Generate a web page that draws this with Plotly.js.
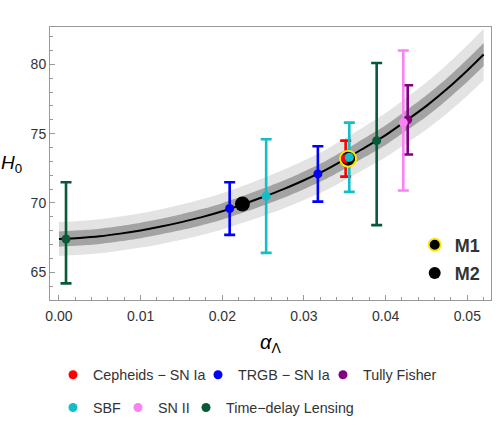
<!DOCTYPE html>
<html>
<head>
<meta charset="utf-8">
<script src="https://cdn.plot.ly/plotly-3.0.1.min.js"></script>
<style>
  html, body { margin: 0; padding: 0; background: #fff; }
</style>
</head>
<body>
<div id="h0_graph" style="width:500px;height:425px;"></div>
<script>
/**
 * Colors
 */
const red = "#FF0000";      // Cepheids - SN Ia
const blue = "#0000FF";     // TRGB - SN Ia
const purple = "#800080";   // Tully Fisher
const cyan = "#14BEC8";     // SBF
const pink = "#FA82F5";     // SN II
const green = "#065A38";    // Time-delay Lensing
const bandLight = "#E3E3E3";
const bandDark = "#A3A3A3";
const frameColor = "#999";
const tickFontColor = "#333";
const fontFamily = "Liberation Sans, Arial, sans-serif";

/**
 * H0(alpha) curve with the two grey bands
 */
const curve_alpha = [0, 0.0025, 0.005, 0.0075, 0.01, 0.0125, 0.015, 0.0175, 0.02, 0.0225, 0.025,
                     0.0275, 0.03, 0.0325, 0.035, 0.0375, 0.04, 0.0425, 0.045, 0.0475, 0.05, 0.052];
const curve_h0 = [67.40, 67.48, 67.60, 67.79, 68.02, 68.30, 68.62, 68.98, 69.40, 69.90, 70.43,
                  71.00, 71.64, 72.33, 73.15, 74.02, 74.90, 75.94, 77.01, 78.22, 79.56, 80.71];
const dark_upper = [67.95, 68.03, 68.15, 68.34, 68.58, 68.86, 69.19, 69.56, 69.99, 70.50, 71.04,
                    71.62, 72.28, 72.98, 73.82, 74.71, 75.61, 76.67, 77.77, 79.00, 80.37, 81.54];
const dark_lower = [66.85, 66.93, 67.05, 67.24, 67.46, 67.74, 68.05, 68.40, 68.81, 69.30, 69.82,
                    70.38, 71.00, 71.68, 72.48, 73.33, 74.19, 75.21, 76.25, 77.44, 78.75, 79.88];
const light_upper = [68.62, 68.70, 68.82, 69.02, 69.26, 69.55, 69.89, 70.27, 70.71, 71.23, 71.79,
                     72.39, 73.06, 73.79, 74.65, 75.56, 76.49, 77.58, 78.71, 79.98, 81.38, 82.57];
const light_lower = [66.18, 66.26, 66.38, 66.56, 66.78, 67.05, 67.35, 67.69, 68.09, 68.57, 69.07,
                     69.61, 70.22, 70.87, 71.65, 72.48, 73.31, 74.30, 75.31, 76.46, 77.74, 78.85];

/**
 * Measurements: alpha position, H0, error up, error down
 */
const cep_alpha = [0.0351];
const cep_h0 = [73.2];
const cep_up = [1.3];
const cep_down = [1.3];

const trgb_alpha = [0.0209, 0.0317];
const trgb_h0 = [69.6, 72.1];
const trgb_up = [1.9, 2.0];
const trgb_down = [1.9, 2.0];

const tf_alpha = [0.0427];
const tf_h0 = [76.0];
const tf_up = [2.5];
const tf_down = [2.5];

const sbf_alpha = [0.02537, 0.03555];
const sbf_h0 = [70.5, 73.3];
const sbf_up = [4.1, 2.5];
const sbf_down = [4.1, 2.5];

const sn2_alpha = [0.04216];
const sn2_h0 = [75.8];
const sn2_up = [5.2];
const sn2_down = [4.9];

const lens_alpha = [0.00086, 0.0389];
const lens_h0 = [67.4, 74.5];
const lens_up = [4.1, 5.6];
const lens_down = [3.2, 6.1];

/**
 * Model points
 */
const m1_alpha = [0.0354];
const m1_h0 = [73.2];
const m2_alpha = [0.02246];
const m2_h0 = [69.93];

const series = [
    {name: "Cepheids − SN Ia", x: cep_alpha, y: cep_h0, up: cep_up, down: cep_down, color: red, legend: "legend"},
    {name: "TRGB − SN Ia", x: trgb_alpha, y: trgb_h0, up: trgb_up, down: trgb_down, color: blue, legend: "legend2"},
    {name: "Tully Fisher", x: tf_alpha, y: tf_h0, up: tf_up, down: tf_down, color: purple, legend: "legend3"},
    {name: "SBF", x: sbf_alpha, y: sbf_h0, up: sbf_up, down: sbf_down, color: cyan, legend: "legend4"},
    {name: "SN II", x: sn2_alpha, y: sn2_h0, up: sn2_up, down: sn2_down, color: pink, legend: "legend5"},
    {name: "Time−delay Lensing", x: lens_alpha, y: lens_h0, up: lens_up, down: lens_down, color: green, legend: "legend6"}
];

function bandTrace(y, fill, color) {
    return {
        x: curve_alpha, y: y, type: "scatter", mode: "lines",
        line: {width: 0, color: color, shape: "spline", smoothing: 0.8},
        fill: fill, fillcolor: color,
        showlegend: false, hoverinfo: "skip"
    };
}

var data = [
    bandTrace(light_lower, "none", bandLight),
    bandTrace(light_upper, "tonexty", bandLight),
    bandTrace(dark_lower, "none", bandDark),
    bandTrace(dark_upper, "tonexty", bandDark),
    {
        x: curve_alpha, y: curve_h0, type: "scatter", mode: "lines",
        line: {color: "#000", width: 2, shape: "spline", smoothing: 0.8},
        showlegend: false
    }
];

// error bars first, so the model points sit on top of them
series.forEach(function(s) {
    data.push({
        x: s.x, y: s.y, type: "scatter", mode: "markers",
        marker: {size: 9, color: "rgba(0,0,0,0)"},
        error_y: {
            type: "data", symmetric: false,
            array: s.up, arrayminus: s.down,
            color: s.color, thickness: 2.6, width: 5.5
        },
        showlegend: false, hoverinfo: "skip"
    });
});

data.push({
    x: m1_alpha, y: m1_h0, type: "scatter", mode: "markers", name: "<b>M1</b>",
    marker: {size: 16, color: "#000", line: {color: "#FFE600", width: 2}},
    legend: "legend7"
});
data.push({
    x: m2_alpha, y: m2_h0, type: "scatter", mode: "markers", name: "<b>M2</b>",
    marker: {size: 15, color: "#000"},
    legend: "legend8"
});

// the dots themselves
series.forEach(function(s) {
    data.push({
        x: s.x, y: s.y, type: "scatter", mode: "markers", name: s.name,
        marker: {size: 9, color: s.color},
        legend: s.legend
    });
});

function legendAt(x, y, size) {
    return {
        x: x, y: y, xanchor: "left", yanchor: "middle",
        orientation: "h",
        bgcolor: "rgba(0,0,0,0)", borderwidth: 0,
        itemsizing: "trace",
        font: {family: fontFamily, size: size || 14.3, color: tickFontColor}
    };
}

var axisCommon = {
    showline: true, mirror: true, linecolor: frameColor, linewidth: 1,
    showgrid: false, zeroline: false,
    ticks: "inside", ticklen: 5, tickcolor: frameColor, tickwidth: 1,
    tickfont: {family: fontFamily, size: 14, color: tickFontColor}
};

var layout = {
    width: 500, height: 425,
    margin: {l: 50, r: 9, t: 27, b: 125, autoexpand: false},
    paper_bgcolor: "#fff", plot_bgcolor: "#fff",
    font: {family: fontFamily},
    xaxis: Object.assign({}, axisCommon, {
        range: [-0.0011, 0.0529],
        tick0: 0, dtick: 0.01, tickformat: ".2f",
        ticklabelstandoff: 3,
        minor: {dtick: 0.002, ticks: "inside", ticklen: 3, tickcolor: frameColor}
    }),
    yaxis: Object.assign({}, axisCommon, {
        range: [63.0, 82.7],
        tick0: 65, dtick: 5,
        minor: {dtick: 1, ticks: "inside", ticklen: 3, tickcolor: frameColor}
    }),
    legend: legendAt(0.0068, -0.2747),
    legend2: legendAt(0.3356, -0.2747),
    legend3: legendAt(0.619, -0.2747),
    legend4: legendAt(0.0068, -0.3945),
    legend5: legendAt(0.1542, -0.3945),
    legend6: legendAt(0.3084, -0.3945),
    legend7: Object.assign(legendAt(0.827, 0.2015, 18), {itemsizing: "constant"}),
    legend8: Object.assign(legendAt(0.827, 0.0978, 18), {itemsizing: "constant"}),
    annotations: [
        {
            text: "<i>H</i><sub>0</sub>", xref: "paper", yref: "paper",
            x: -0.0884, y: 0.498, xanchor: "center", yanchor: "middle",
            showarrow: false, font: {family: fontFamily, size: 19, color: "#000"}
        },
        {
            text: "<i>α</i><sub>Λ</sub>", xref: "paper", yref: "paper",
            x: 0.5, y: -0.16, xanchor: "center", yanchor: "middle",
            showarrow: false, font: {family: fontFamily, size: 20, color: "#000"}
        }
    ]
};

Plotly.newPlot("h0_graph", data, layout, {displayModeBar: false, staticPlot: true});
</script>
</body>
</html>
